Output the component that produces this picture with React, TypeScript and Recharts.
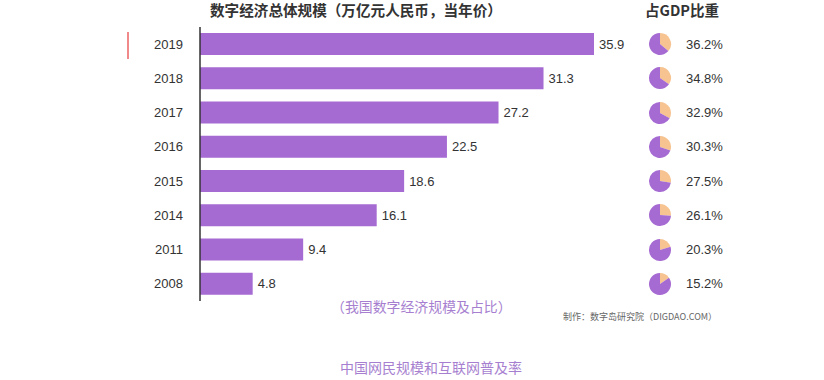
import { Bar, BarChart, Cell, LabelList, Pie, PieChart, XAxis, YAxis } from "recharts";

const years = ["2019", "2018", "2017", "2016", "2015", "2014", "2011", "2008"];
const scale = [35.9, 31.3, 27.2, 22.5, 18.6, 16.1, 9.4, 4.8];
const gdpShare = [36.2, 34.8, 32.9, 30.3, 27.5, 26.1, 20.3, 15.2];

const BAR_COLOR = "#a66ad3";
const PEACH = "#f6c391";
const FONT = "'Noto Sans CJK SC', 'Noto Sans', sans-serif";
const NUM_FONT = "'Liberation Sans', Arial, sans-serif";

const data = years.map((year, i) => ({ year, value: scale[i] }));

function ShareRow({ pct }: { pct: number }) {
  const slices = [{ v: pct }, { v: 100 - pct }];
  return (
    <div style={{ height: 34.25, display: "flex", alignItems: "center" }}>
      <PieChart width={24} height={24} margin={{ top: 0, right: 0, bottom: 0, left: 0 }}>
        <Pie
          data={slices}
          dataKey="v"
          cx={12}
          cy={12}
          outerRadius={11}
          startAngle={90}
          endAngle={-270}
          stroke="none"
          isAnimationActive={false}
        >
          <Cell fill={PEACH} />
          <Cell fill={BAR_COLOR} />
        </Pie>
      </PieChart>
      <span style={{ marginLeft: 14, fontSize: 13, color: "#333", fontFamily: NUM_FONT }}>{pct.toFixed(1)}%</span>
    </div>
  );
}

export default function App() {
  return (
    <div
      style={{
        position: "absolute",
        left: 0,
        top: 0,
        width: 824,
        height: 380,
        background: "#fff",
        fontFamily: FONT,
        overflow: "hidden",
      }}
    >
      <div style={{ position: "absolute", left: 127, top: 32, width: 2, height: 27, background: "#f08a8a" }} />

      <div style={{ position: "absolute", left: 210, top: 0, fontSize: 14.6, fontWeight: 700, color: "#333", lineHeight: "20px" }}>
        数字经济总体规模（万亿元人民币，当年价）
      </div>
      <div style={{ position: "absolute", left: 645, top: 0, fontSize: 14.5, fontWeight: 700, color: "#333", lineHeight: "20px" }}>
        占GDP比重
      </div>

      <BarChart
        width={824}
        height={380}
        data={data}
        layout="vertical"
        margin={{ top: 27, right: 185, bottom: 79, left: 0 }}
        barCategoryGap={12}
      >
        <XAxis type="number" domain={[0, 40]} hide />
        <YAxis
          type="category"
          dataKey="year"
          width={200}
          tickSize={0}
          tickMargin={17}
          tickLine={false}
          axisLine={{ stroke: "#333", strokeWidth: 1.5 }}
          tick={{ fill: "#333", fontSize: 13, fontFamily: NUM_FONT }}
        />
        <Bar dataKey="value" fill={BAR_COLOR} barSize={22} isAnimationActive={false}>
          <LabelList
            dataKey="value"
            position="right"
            offset={5}
            fill="#333"
            fontSize={13}
            fontFamily={NUM_FONT}
            formatter={(v: number) => v.toFixed(1)}
          />
        </Bar>
      </BarChart>

      <div style={{ position: "absolute", left: 648, top: 27, width: 120 }}>
        {gdpShare.map((p) => (
          <ShareRow key={p} pct={p} />
        ))}
      </div>

      <div style={{ position: "absolute", left: 331, top: 296, fontSize: 13.9, color: "#a77fd0", lineHeight: "20px" }}>
        （我国数字经济规模及占比）
      </div>
      <div style={{ position: "absolute", left: 563, top: 311, fontSize: 9, color: "#666", lineHeight: "12px" }}>
        制作：数字岛研究院（DIGDAO.COM）
      </div>
      <div style={{ position: "absolute", left: 340, top: 357, fontSize: 14, color: "#a77fd0", lineHeight: "20px" }}>
        中国网民规模和互联网普及率
      </div>
    </div>
  );
}
